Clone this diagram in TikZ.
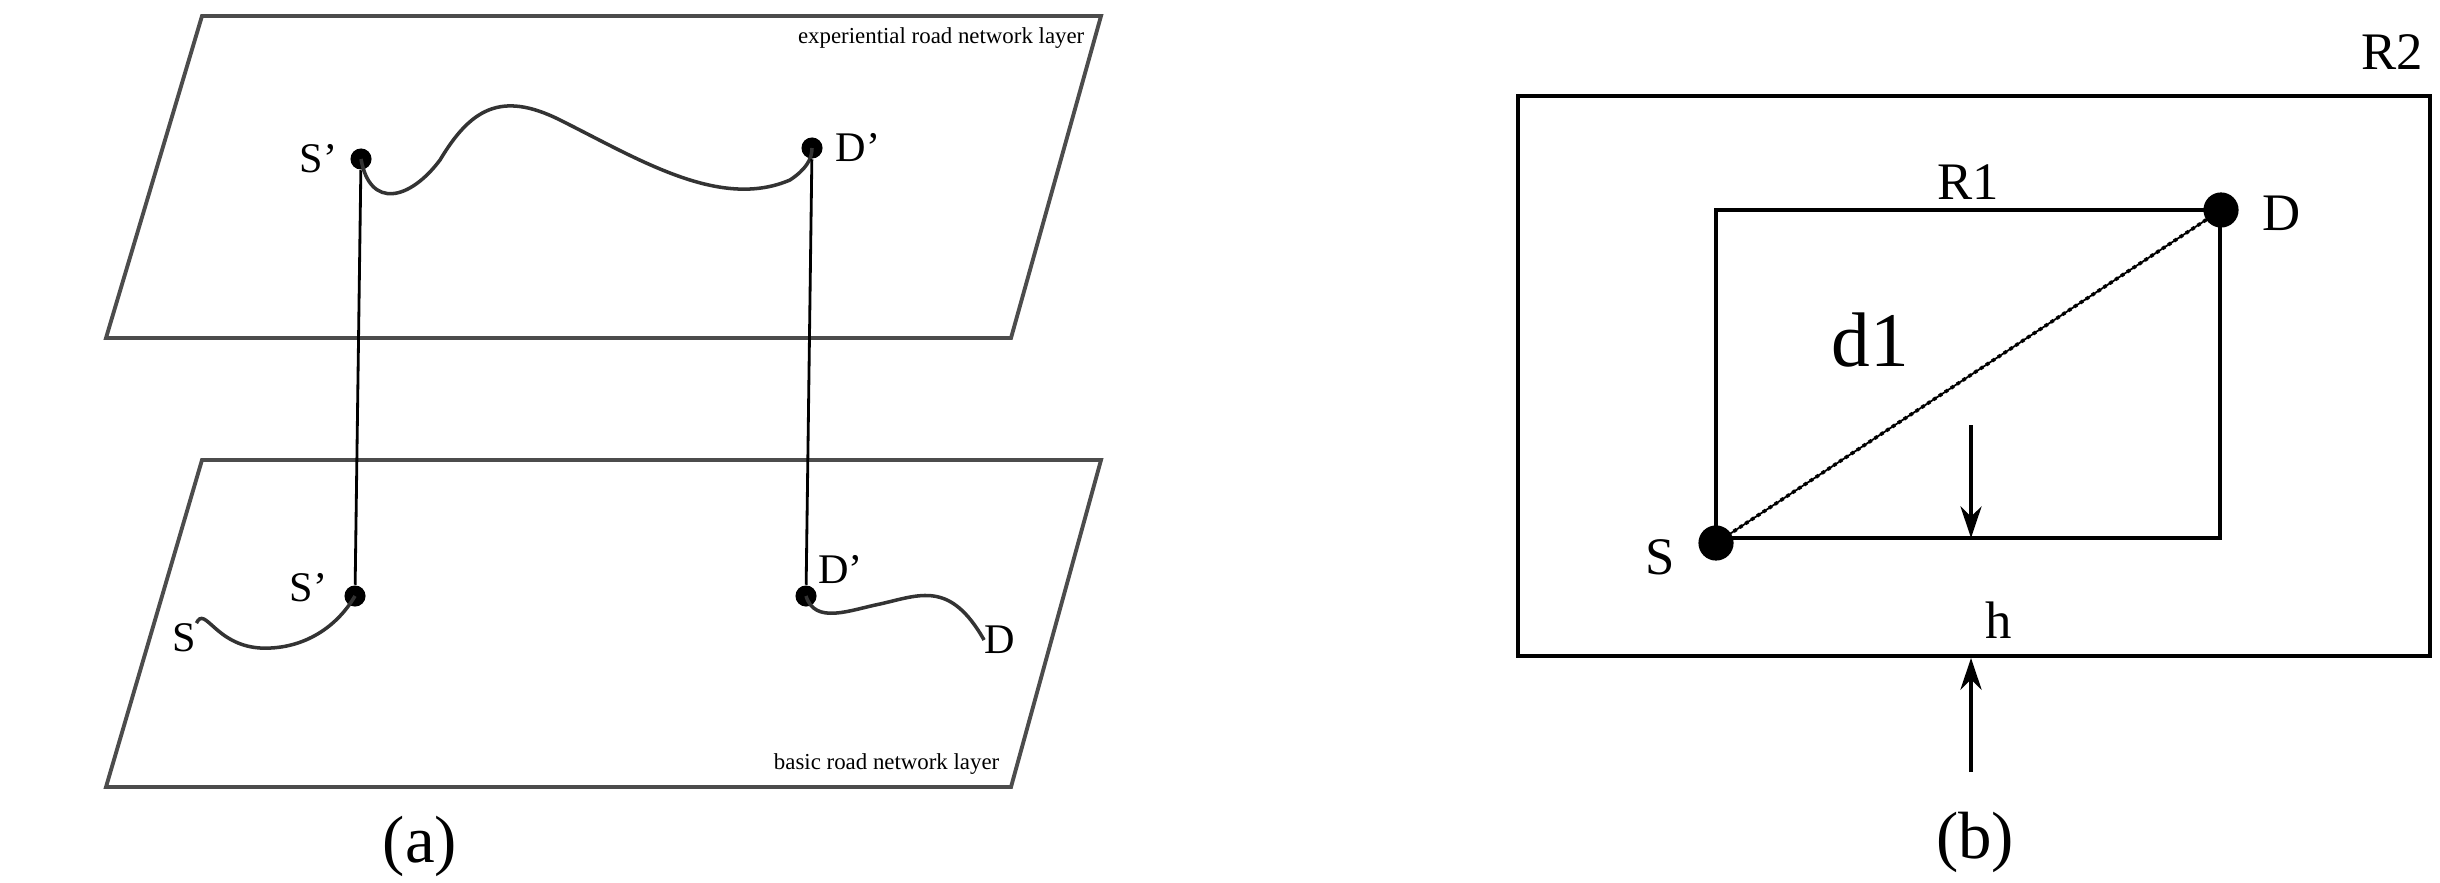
\documentclass[tikz,border=0pt]{standalone}
\usepackage{fontspec}
\setmainfont{Liberation Serif}
\usetikzlibrary{arrows.meta}
\begin{document}
\begin{tikzpicture}[x=0.01cm,y=-0.01cm,
  plane/.style={draw=black!70,line width=1.1pt},
  link/.style={draw=black,line width=0.8pt},
  road/.style={draw=black!80,line width=1pt},
  dot/.style={circle,fill=black,inner sep=0pt,minimum size=#1},
  sa/.style={font=\fontsize{12}{14}\selectfont},
  sm/.style={font=\fontsize{15}{17}\selectfont},
  md/.style={font=\fontsize{19}{21}\selectfont},
  big/.style={font=\fontsize{22}{24}\selectfont},
  tiny/.style={font=\fontsize{6.5}{7}\selectfont,inner sep=0pt}]
\path[use as bounding box] (0,0) rectangle (2440,882);
% (a) upper plane
\draw[plane] (202,16) -- (1101,16) -- (1011,338) -- (106,338) -- cycle;
\node[tiny,anchor=east] (el) at (1085,38) {experiential road network layer};
% lower plane
\draw[plane] (202,460) -- (1101,460) -- (1011,787) -- (106,787) -- cycle;
\node[tiny,anchor=east] (bl) at (1000,764) {basic road network layer};
\node[dot=6pt] (us) at (361,159) {};
\node[dot=6pt] (ud) at (812,148) {};
\node[dot=6pt] (ls) at (355,596) {};
\node[dot=6pt] (ld) at (806,596) {};
\node[sa,anchor=east] at (us.west) {S'};
\node[sa,anchor=west] at (ud.east) {D'};
\node[sa,anchor=east] at ([shift={(-4,-8)}]ls.west) {S'};
\node[sa,anchor=south west,inner sep=1pt] at (ld.north east) {D'};
\draw[road] (us.center) .. controls (370,210) and (410,200) .. (440,160)
  .. controls (470,110) and (500,90) .. (560,120)
  .. controls (640,160) and (720,210) .. (790,180)
  .. controls (805,170) and (812,160) .. (ud.center);
\draw[link] (us) -- (ls);
\draw[link] (ud) -- (ld);
\node[sa,inner sep=0pt] (s0) at (184,638) {S};
\node[sa,inner sep=0pt] (d0) at (1000,640) {D};
\draw[road] (s0.north east) .. controls (205,605) and (215,645) .. (260,648)
  .. controls (300,650) and (335,630) .. (ls.center);
\draw[road] (ld.center) .. controls (815,625) and (850,610) .. (880,604)
  .. controls (920,595) and (950,580) .. (d0.west);
\node[md] at (420,846) {(a)};
% (b)
\draw[line width=1.2pt] (1518,96) rectangle (2430,656);
\node[sm] at (2392,52) {R2};
\draw[line width=1.1pt] (1716,210) rectangle (2220,538);
\node[dot=10pt] (D) at (2221,210) {};
\node[dot=10pt] (S) at (1716,543) {};
\node[sm,anchor=west] at (2250,213) {D};
\node[sm] at (1660,557) {S};
\node[sm] at (1968,182) {R1};
\draw[densely dotted,line width=1pt] (S.center) -- (D.center);
\draw[line width=0.5pt] (S.center) -- (D.center);
\node[big] at (1870,340) {d1};
\coordinate (a1) at (1971,425);
\coordinate (a2) at (1971,538);
\draw[line width=1pt,-{Stealth[length=9pt,width=6pt]}] (a1) -- (a2);
\node[sm] at (1999,620) {h};
\coordinate (b1) at (1971,772);
\coordinate (b2) at (1971,658);
\draw[line width=1.2pt,-{Stealth[length=9pt,width=6pt]}] (b1) -- (b2);
\node[md] at (1975,842) {(b)};
\end{tikzpicture}
\end{document}
